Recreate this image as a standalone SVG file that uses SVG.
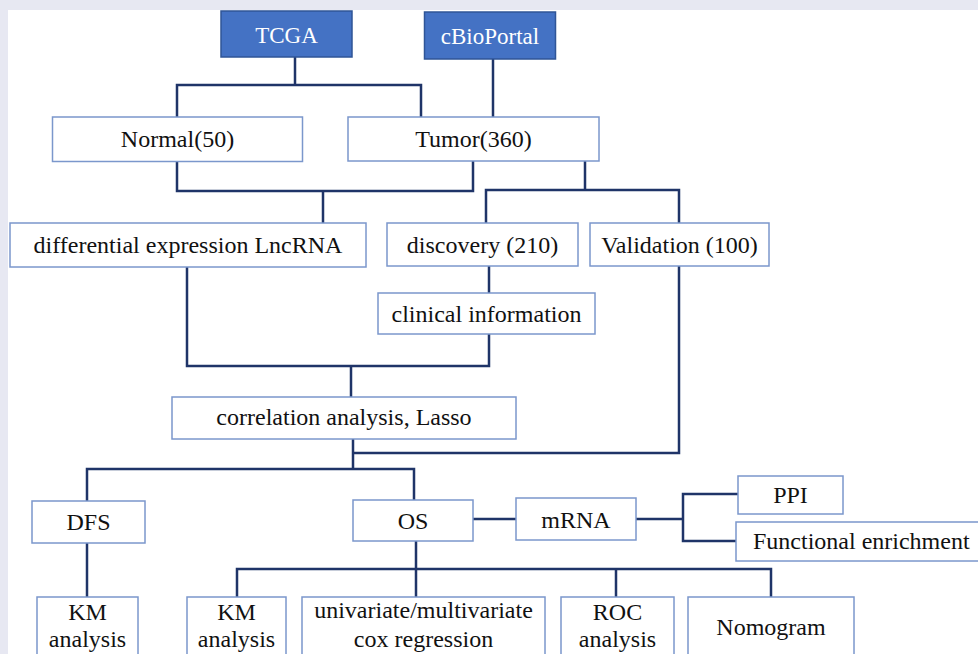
<svg xmlns="http://www.w3.org/2000/svg" width="978" height="654" viewBox="0 0 978 654">
<style>
.bg{fill:#e7e8f2}
.box{fill:#ffffff;stroke:#7b97cc;stroke-width:1.5}
.src{fill:#4472c4;stroke:#2f5597;stroke-width:1.5}
.t{font-size:24px;fill:#111111;text-anchor:middle}
.tw{font-size:23px;fill:#ffffff;text-anchor:middle}
.c{fill:none;stroke:#1f3468;stroke-width:2.5}
</style>
<rect class="bg" x="0" y="0" width="978" height="654"/>
<rect x="8" y="10" width="970" height="644" fill="#ffffff"/>
<g id="connectors">
<path class="c" d="M295 57V85M177 117V85H421V117"/>
<path class="c" d="M493 59V117"/>
<path class="c" d="M177 162V191H473V161M323 191V223"/>
<path class="c" d="M585 161V190M486 223V190H679V223"/>
<path class="c" d="M489 266V293"/>
<path class="c" d="M187 267V366H489V334M351 366V397"/>
<path class="c" d="M353 439V469M679 266V453H353"/>
<path class="c" d="M87 501V469H414V500"/>
<path class="c" d="M87 543V597"/>
<path class="c" d="M473 519H516M636 519H683M738 494H683V541H736"/>
<path class="c" d="M416 541V597M237 597V569H771V597M616 569V597"/>
</g>
<g font-family="Liberation Serif, DejaVu Serif, Times New Roman, serif">
<g id="tcga"><rect class="src" x="221" y="11" width="131" height="46"/><text class="tw" x="286.5" y="43">TCGA</text></g>
<g id="cbioportal"><rect class="src" x="424.5" y="12" width="131" height="47"/><text class="tw" x="490" y="44">cBioPortal</text></g>
<g id="normal"><rect class="box" x="52.5" y="117" width="250" height="44.5"/><text class="t" x="177.5" y="147">Normal(50)</text></g>
<g id="tumor"><rect class="box" x="348" y="117" width="251" height="44"/><text class="t" x="473.5" y="147">Tumor(360)</text></g>
<g id="diffexpr"><rect class="box" x="10" y="223" width="356" height="44"/><text class="t" x="188" y="253">differential expression LncRNA</text></g>
<g id="discovery"><rect class="box" x="387" y="223" width="191" height="43"/><text class="t" x="482.5" y="253">discovery (210)</text></g>
<g id="validation"><rect class="box" x="590" y="223" width="179" height="43"/><text class="t" x="679.5" y="253">Validation (100)</text></g>
<g id="clinical"><rect class="box" x="378" y="293" width="217" height="41"/><text class="t" x="486.5" y="322">clinical information</text></g>
<g id="correlation"><rect class="box" x="172" y="397" width="344" height="42"/><text class="t" x="344" y="425">correlation analysis, Lasso</text></g>
<g id="dfs"><rect class="box" x="32" y="501" width="113" height="42"/><text class="t" x="88.5" y="530">DFS</text></g>
<g id="os"><rect class="box" x="353" y="500" width="120" height="41"/><text class="t" x="413" y="529">OS</text></g>
<g id="mrna"><rect class="box" x="516" y="498" width="120" height="42"/><text class="t" x="576" y="528">mRNA</text></g>
<g id="ppi"><rect class="box" x="738" y="476" width="105" height="38"/><text class="t" x="790.5" y="503">PPI</text></g>
<g id="functional"><rect class="box" x="736" y="522" width="260" height="39"/><text class="t" x="753" y="549" style="text-anchor:start">Functional enrichment</text></g>
<g id="km-dfs"><rect class="box" x="37" y="597" width="101" height="70"/><text class="t" x="87.5" y="620">KM</text><text class="t" x="87.5" y="647">analysis</text></g>
<g id="km-os"><rect class="box" x="187" y="597" width="99" height="70"/><text class="t" x="236.5" y="620">KM</text><text class="t" x="236.5" y="647">analysis</text></g>
<g id="cox"><rect class="box" x="302" y="597" width="243" height="70"/><text class="t" x="423.5" y="618">univariate/multivariate</text><text class="t" x="423.5" y="647">cox regression</text></g>
<g id="roc"><rect class="box" x="561" y="597" width="113" height="70"/><text class="t" x="617.5" y="620">ROC</text><text class="t" x="617.5" y="647">analysis</text></g>
<g id="nomogram"><rect class="box" x="688" y="597" width="166" height="70"/><text class="t" x="771" y="635">Nomogram</text></g>
</g>
</svg>
